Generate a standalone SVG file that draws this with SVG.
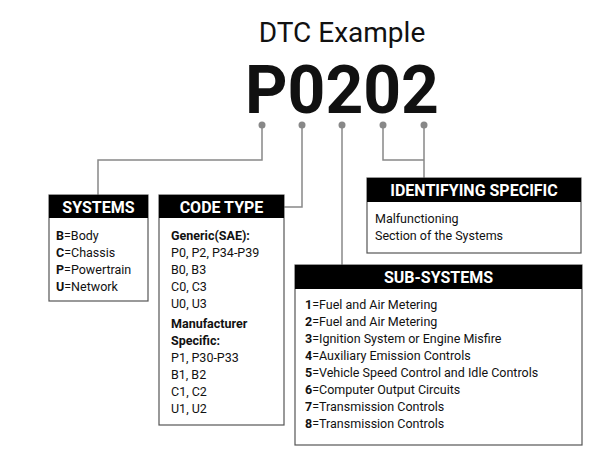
<svg xmlns="http://www.w3.org/2000/svg" width="614" height="460" viewBox="0 0 614 460">
<style>
text{font-family:Roboto,"Liberation Sans",sans-serif;fill:#111}
.box{fill:#fff;stroke:#555;stroke-width:1.2}
.hd{fill:#000}
.ht{fill:#fff;font-weight:bold;font-size:16px;text-anchor:middle}
.t{font-size:12.5px}
.b{font-weight:bold}
.c{fill:none;stroke:#888;stroke-width:1.5}
.d{fill:#888}
</style>
<rect width="614" height="460" fill="#fff"/>
<text x="342" y="42" font-size="28" text-anchor="middle" fill="#222">DTC Example</text>
<text x="342" y="113" font-size="66" font-weight="bold" text-anchor="middle" fill="#000">P0202</text>
<g id="connectors">
<path class="c" d="M262 125V160H98V195"/>
<path class="c" d="M302 125V207H284"/>
<path class="c" d="M342 125V265"/>
<path class="c" d="M383 125V160H424M424 125V178"/>
<circle class="d" cx="262" cy="125" r="3.5"/>
<circle class="d" cx="302" cy="125" r="3.5"/>
<circle class="d" cx="342" cy="125" r="3.5"/>
<circle class="d" cx="383" cy="125" r="3.5"/>
<circle class="d" cx="424" cy="125" r="3.5"/>
</g>
<g id="systems">
<rect class="box" x="49" y="195" width="99" height="106"/>
<rect class="hd" x="49" y="195" width="99" height="23"/>
<text class="ht" x="98.5" y="213">SYSTEMS</text>
<text class="t" x="56" y="240"><tspan class="b">B</tspan>=Body</text>
<text class="t" x="56" y="257"><tspan class="b">C</tspan>=Chassis</text>
<text class="t" x="56" y="274"><tspan class="b">P</tspan>=Powertrain</text>
<text class="t" x="56" y="291"><tspan class="b">U</tspan>=Network</text>
</g>
<g id="codetype">
<rect class="box" x="159" y="195" width="125" height="230"/>
<rect class="hd" x="159" y="195" width="125" height="23"/>
<text class="ht" x="221.5" y="213">CODE TYPE</text>
<text class="t b" x="171" y="240">Generic(SAE):</text>
<text class="t" x="171" y="257">P0, P2, P34-P39</text>
<text class="t" x="171" y="274">B0, B3</text>
<text class="t" x="171" y="291">C0, C3</text>
<text class="t" x="171" y="308">U0, U3</text>
<text class="t b" x="171" y="328">Manufacturer</text>
<text class="t b" x="171" y="345">Specific:</text>
<text class="t" x="171" y="362">P1, P30-P33</text>
<text class="t" x="171" y="379">B1, B2</text>
<text class="t" x="171" y="396">C1, C2</text>
<text class="t" x="171" y="413">U1, U2</text>
</g>
<g id="identifying">
<rect class="box" x="367" y="178" width="214" height="75"/>
<rect class="hd" x="367" y="178" width="214" height="24"/>
<text class="ht" x="474" y="196">IDENTIFYING SPECIFIC</text>
<text class="t" x="375" y="223">Malfunctioning</text>
<text class="t" x="375" y="240">Section of the Systems</text>
</g>
<g id="subsystems">
<rect class="box" x="295" y="265" width="287" height="180"/>
<rect class="hd" x="295" y="265" width="287" height="24"/>
<text class="ht" x="438.5" y="283">SUB-SYSTEMS</text>
<text class="t" x="305" y="309"><tspan class="b">1</tspan>=Fuel and Air Metering</text>
<text class="t" x="305" y="326"><tspan class="b">2</tspan>=Fuel and Air Metering</text>
<text class="t" x="305" y="343"><tspan class="b">3</tspan>=Ignition System or Engine Misfire</text>
<text class="t" x="305" y="360"><tspan class="b">4</tspan>=Auxiliary Emission Controls</text>
<text class="t" x="305" y="377"><tspan class="b">5</tspan>=Vehicle Speed Control and Idle Controls</text>
<text class="t" x="305" y="394"><tspan class="b">6</tspan>=Computer Output Circuits</text>
<text class="t" x="305" y="411"><tspan class="b">7</tspan>=Transmission Controls</text>
<text class="t" x="305" y="428"><tspan class="b">8</tspan>=Transmission Controls</text>
</g>
</svg>
